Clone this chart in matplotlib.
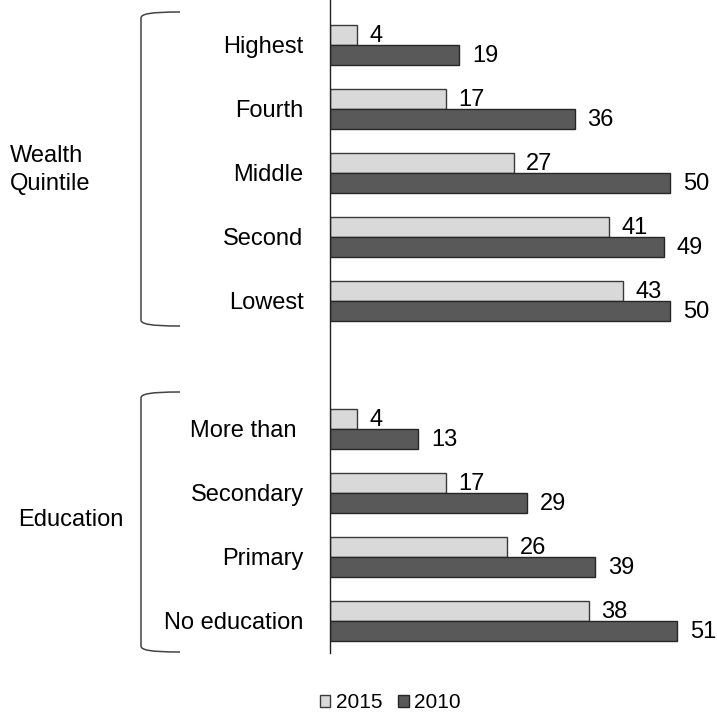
import matplotlib.pyplot as plt
from matplotlib.path import Path
from matplotlib.patches import PathPatch

categories = ["Highest", "Fourth", "Middle", "Second", "Lowest",
              "More than ", "Secondary", "Primary", "No education"]
positions = [0, 1, 2, 3, 4, 6, 7, 8, 9]
values_2015 = [4, 17, 27, 41, 43, 4, 17, 26, 38]
values_2010 = [19, 36, 50, 49, 50, 13, 29, 39, 51]

plt.rcParams['font.family'] = ['Liberation Sans', 'DejaVu Sans']

W, H = 717, 713
fig = plt.figure(figsize=(W / 100, H / 100), dpi=100)
ax = fig.add_axes([330 / W, 1 - 653 / H, 388 / W, 653 / H])

bh = 0.31
pos_a = [p - bh / 2 for p in positions]
pos_b = [p + bh / 2 for p in positions]
b1 = ax.barh(pos_a, values_2015, height=bh, color='#d9d9d9',
             edgecolor='#3a3a3a', linewidth=1, label='2015')
b2 = ax.barh(pos_b, values_2010, height=bh, color='#595959',
             edgecolor='#262626', linewidth=1, label='2010')

for bars, vals in ((b1, values_2015), (b2, values_2010)):
    for bar, v in zip(bars, vals):
        ax.annotate(str(v), (bar.get_width(), bar.get_y() + bar.get_height() / 2),
                    xytext=(9, -1), textcoords='offset points',
                    ha='left', va='center', fontsize=17)

ax.set_xlim(0, 57)
ax.set_ylim(9.5, -0.7)
ax.set_yticks(positions)
ax.set_yticklabels(categories, fontsize=17)
ax.tick_params(axis='y', length=0, pad=19)
ax.set_xticks([])
for s in ('top', 'right', 'bottom'):
    ax.spines[s].set_visible(False)
ax.spines['left'].set_color('#222222')
ax.spines['left'].set_linewidth(1)


def bracket(y0, y1):
    verts = [(180, y0), (150, y0), (141, y0 + 2), (141, y0 + 6),
             (141, y1 - 6),
             (141, y1 - 2), (150, y1), (180, y1)]
    codes = [Path.MOVETO, Path.CURVE4, Path.CURVE4, Path.CURVE4,
             Path.LINETO,
             Path.CURVE4, Path.CURVE4, Path.CURVE4]
    verts = [(x / W, 1 - y / H) for x, y in verts]
    fig.add_artist(PathPatch(Path(verts, codes), transform=fig.transFigure,
                             fill=False, edgecolor='#444444', linewidth=1.1))


bracket(12, 326)
bracket(392, 652)

fig.text(10 / W, 1 - 170 / H, "Wealth\nQuintile", ha='left', va='center',
         fontsize=17, linespacing=1.4)
fig.text(18 / W, 1 - 520 / H, "Education", ha='left', va='center', fontsize=17)

fig.legend(handles=[b1, b2], loc='center', bbox_to_anchor=(390 / W, 1 - 703 / H),
           ncol=2, frameon=False, fontsize=15, handlelength=0.52, handleheight=0.52,
           handletextpad=0.25, columnspacing=0.75, borderpad=0)

fig.savefig('out.png', dpi=100)
